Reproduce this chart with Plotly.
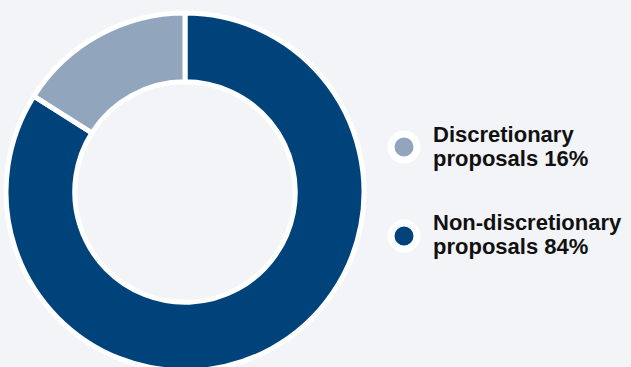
import plotly.graph_objects as go

# Data
labels = ["Discretionary proposals", "Non-discretionary proposals"]
legend_lines = [["Discretionary", "proposals 16%"], ["Non-discretionary", "proposals 84%"]]
values = [16, 84]
colors = ["#91a5bd", "#00437b"]

W, H = 631, 371
BG = "#f3f4f8"

fig = go.Figure()
fig.add_trace(go.Pie(
    labels=labels[::-1],
    values=values[::-1],
    hole=0.616,
    sort=False,
    direction="clockwise",
    rotation=0,
    textinfo="none",
    marker=dict(colors=colors[::-1], line=dict(color="white", width=5)),
    domain=dict(x=[6 / W, 364 / W], y=[0, 358 / H]),
    showlegend=False,
))

def px_x(p):
    return p / W

def px_y(p):
    return (H - p) / H

# Manual legend
circle_cy = [147, 236]
circle_cx = 404
d = 26
shapes = []
annotations = []
for i, (lines, c) in enumerate(zip(legend_lines, colors)):
    cy = circle_cy[i]
    shapes.append(dict(
        type="circle", xref="paper", yref="paper",
        x0=px_x(circle_cx - d / 2), x1=px_x(circle_cx + d / 2),
        y0=px_y(cy + d / 2), y1=px_y(cy - d / 2),
        fillcolor=c, line=dict(color="white", width=7), layer="above",
    ))
    for j, ln in enumerate(lines):
        ymid = cy - 13 + j * 24
        annotations.append(dict(
            text=ln, xref="paper", yref="paper",
            x=px_x(431), y=px_y(ymid), xanchor="left", yanchor="middle",
            showarrow=False,
            font=dict(family="Liberation Sans, Arial, sans-serif", size=22, color="#111111", weight="bold"),
        ))

fig.update_layout(
    width=W, height=H,
    margin=dict(l=0, r=0, t=0, b=0),
    paper_bgcolor=BG, plot_bgcolor=BG,
    shapes=shapes, annotations=annotations,
    showlegend=False,
)

fig.write_html(
    "out.html",
    post_script="document.documentElement.style.overflow='hidden';document.body.style.overflow='hidden';document.body.style.margin='0';",
)
